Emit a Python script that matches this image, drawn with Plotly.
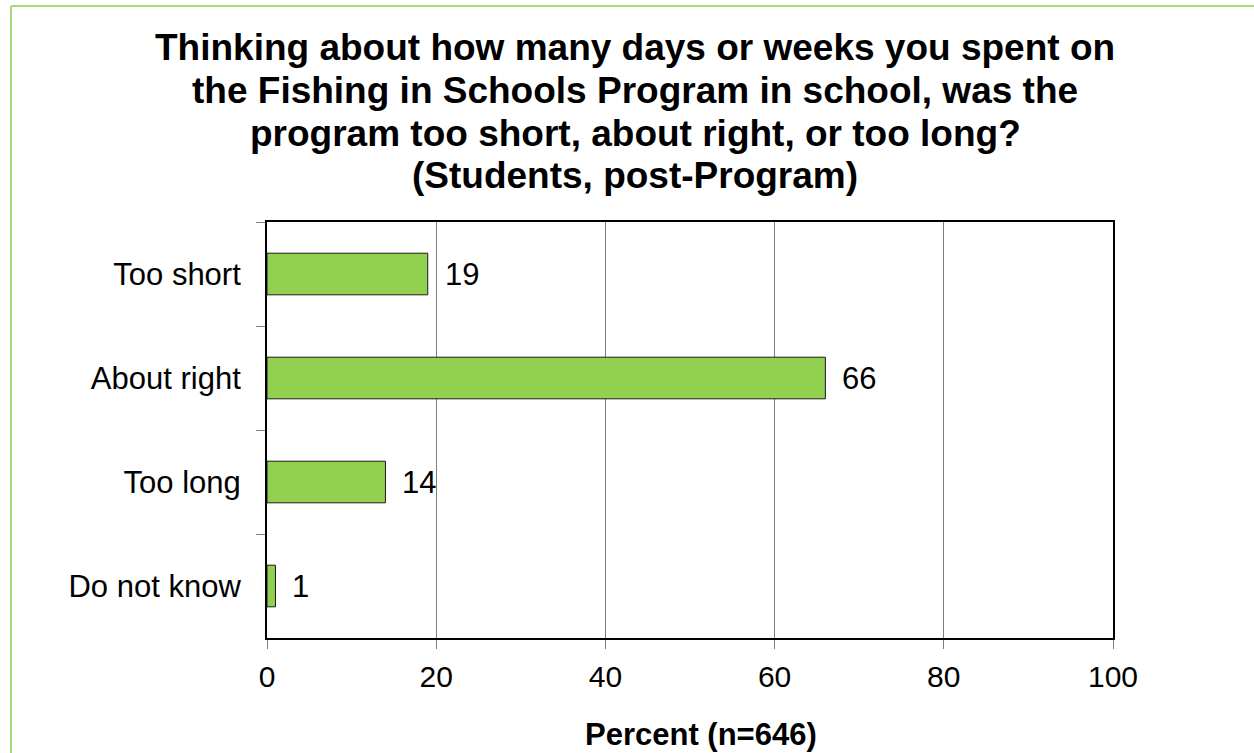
import plotly.graph_objects as go

categories = ["Too short", "About right", "Too long", "Do not know"]
values = [19, 66, 14, 1]
x_ticks = [0, 20, 40, 60, 80, 100]
title_lines = [
    "Thinking about how many days or weeks you spent on",
    "the Fishing in Schools Program in school, was the",
    "program too short, about right, or too long?",
    "(Students, post-Program)",
]
x_title = "Percent (n=646)"

W, H = 1254, 753
L, R, T, B = 267, 1113, 222, 638
pw, ph = R - L, B - T


def px(x):
    return (x - L) / pw


def py(y):
    return (B - y) / ph


FONT = "Liberation Sans, Arial, sans-serif"

fig = go.Figure()
fig.add_trace(go.Bar(
    x=values, y=categories, orientation="h",
    marker=dict(color="#92D050", line=dict(color="#1a1a1a", width=1)),
    width=0.4, hoverinfo="x+y",
))

annotations = []
for c, v in zip(categories, values):
    annotations.append(dict(
        x=v, y=c, xref="x", yref="y", text=str(v), showarrow=False,
        xanchor="left", yanchor="middle", xshift=15,
        font=dict(family=FONT, size=31, color="black"),
    ))

title_centers = [47, 90, 133, 176]
for line, yc in zip(title_lines, title_centers):
    annotations.append(dict(
        x=px(635), y=py(yc), xref="paper", yref="paper", text="<b>" + line + "</b>",
        showarrow=False, xanchor="center", yanchor="middle",
        font=dict(family=FONT, size=37, color="black"),
    ))

annotations.append(dict(
    x=px(701), y=py(734), xref="paper", yref="paper", text="<b>" + x_title + "</b>",
    showarrow=False, xanchor="center", yanchor="middle",
    font=dict(family=FONT, size=31, color="black"),
))

shapes = [
    dict(type="line", xref="paper", yref="paper", x0=px(11), y0=py(6), x1=px(1260), y1=py(6),
         line=dict(color="#a6d97c", width=2)),
    dict(type="line", xref="paper", yref="paper", x0=px(11), y0=py(6), x1=px(11), y1=py(760),
         line=dict(color="#a6d97c", width=2)),
]

fig.update_layout(
    width=W, height=H,
    margin=dict(l=L, r=W - R, t=T, b=H - B, pad=0),
    paper_bgcolor="white", plot_bgcolor="white",
    showlegend=False,
    annotations=annotations,
    shapes=shapes,
    font=dict(family=FONT, size=31, color="black"),
    xaxis=dict(
        range=[0, 100], tickvals=x_ticks, ticktext=[str(t) for t in x_ticks],
        showgrid=True, gridcolor="#7f7f7f", gridwidth=1,
        showline=True, linecolor="black", linewidth=2, mirror=True,
        ticks="outside", ticklen=9, tickcolor="#7f7f7f", tickwidth=1,
        tickfont=dict(family=FONT, size=30, color="black"),
        ticklabelstandoff=2,
        zeroline=False, fixedrange=True,
    ),
    yaxis=dict(
        categoryorder="array", categoryarray=categories,
        range=[3.5, -0.5],
        showgrid=False,
        showline=True, linecolor="black", linewidth=2, mirror=True,
        ticks="outside", ticklen=9, tickcolor="#7f7f7f", tickwidth=1,
        tickson="boundaries",
        tickfont=dict(family=FONT, size=31, color="black"),
        ticklabelstandoff=18,
        zeroline=False, fixedrange=True,
    ),
)

fig.write_html(
    "out.html",
    config={"displayModeBar": False},
    post_script="document.body.style.margin='0';document.body.style.padding='0';document.body.style.overflow='hidden';",
)
